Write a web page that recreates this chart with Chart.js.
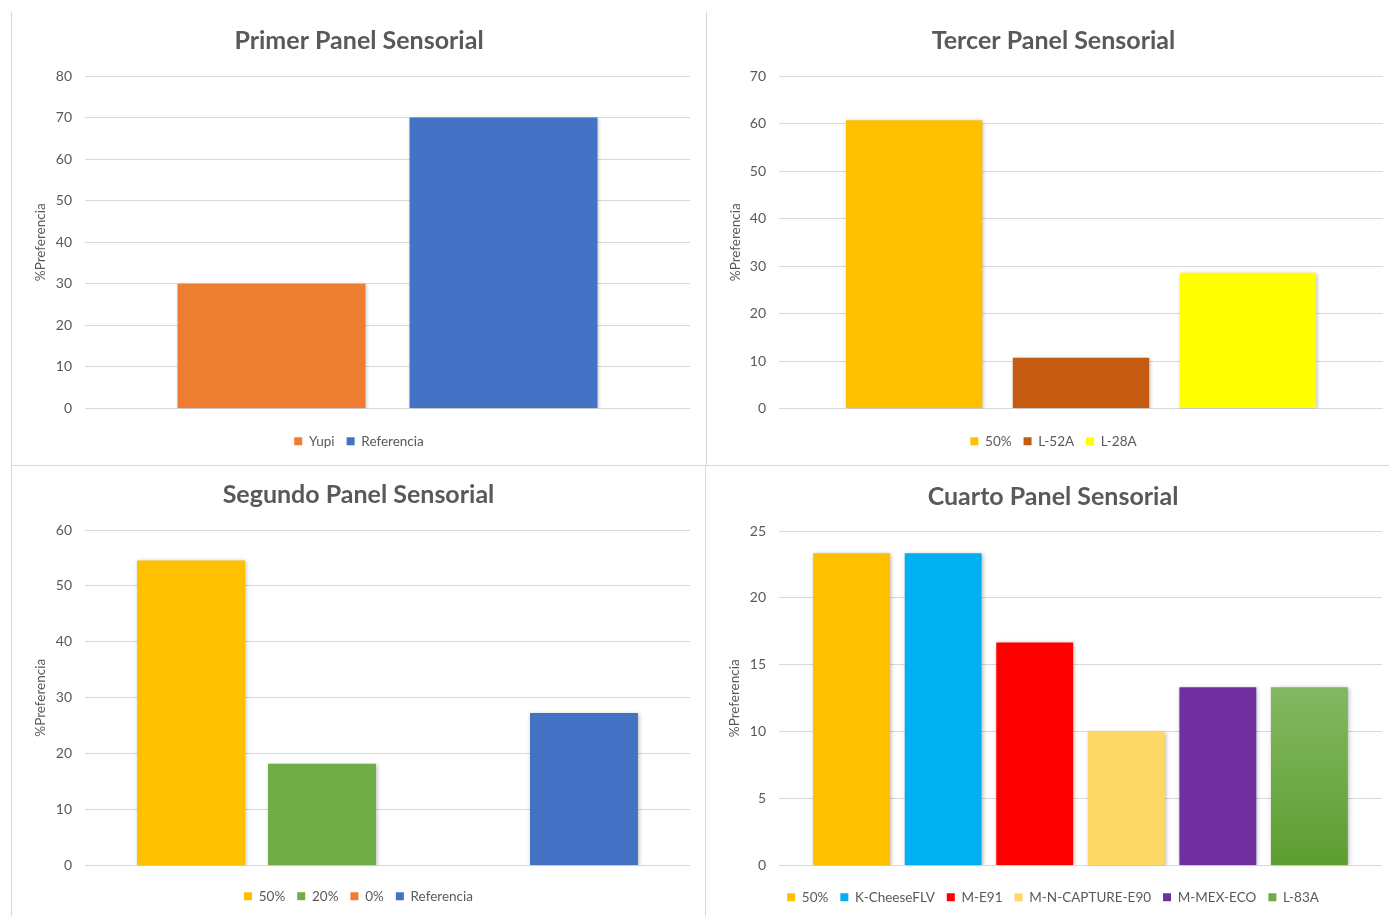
<!DOCTYPE html>
<html lang="es">
<head>
<meta charset="utf-8">
<title>Paneles Sensoriales</title>
<script src="https://cdn.jsdelivr.net/npm/chart.js@4.4.1/dist/chart.umd.min.js"></script>
<style>
  html, body { margin: 0; padding: 0; background: #ffffff; }
  body { width: 1389px; height: 916px; position: relative; overflow: hidden; }
  .panel { position: absolute; }
  .rule { position: absolute; background: #d9d9d9; }
</style>
</head>
<body>
<div class="rule" style="left:11px; top:12px; width:1px; height:904px;"></div>
<div class="rule" style="left:706px; top:12px; width:1px; height:453px;"></div>
<div class="rule" style="left:705px; top:466px; width:1px; height:450px;"></div>
<div class="rule" style="left:11px; top:465px; width:1378px; height:1px;"></div>

<div class="panel" style="left:12px; top:12px; width:694px; height:453px;"><canvas id="panel1"></canvas></div>
<div class="panel" style="left:707px; top:12px; width:693px; height:453px;"><canvas id="panel3"></canvas></div>
<div class="panel" style="left:12px; top:466px; width:693px; height:450px;"><canvas id="panel2"></canvas></div>
<div class="panel" style="left:706px; top:466px; width:694px; height:450px;"><canvas id="panel4"></canvas></div>

<script>
// ---- Primer Panel Sensorial ----
const panel1Title = 'Primer Panel Sensorial';
const panel1Series = ['Yupi', 'Referencia'];
const panel1Values = [30, 70];
const panel1Ticks = [0, 10, 20, 30, 40, 50, 60, 70, 80];

// ---- Segundo Panel Sensorial ----
const panel2Title = 'Segundo Panel Sensorial';
const panel2Series = ['50%', '20%', '0%', 'Referencia'];
const panel2Values = [54.55, 18.18, 0, 27.27];
const panel2Ticks = [0, 10, 20, 30, 40, 50, 60];

// ---- Tercer Panel Sensorial ----
const panel3Title = 'Tercer Panel Sensorial';
const panel3Series = ['50%', 'L-52A', 'L-28A'];
const panel3Values = [60.71, 10.71, 28.57];
const panel3Ticks = [0, 10, 20, 30, 40, 50, 60, 70];

// ---- Cuarto Panel Sensorial ----
const panel4Title = 'Cuarto Panel Sensorial';
const panel4Series = ['50%', 'K-CheeseFLV', 'M-E91', 'M-N-CAPTURE-E90', 'M-MEX-ECO', 'L-83A'];
const panel4Values = [23.33, 23.33, 16.67, 10, 13.33, 13.33];
const panel4Ticks = [0, 5, 10, 15, 20, 25];

const yAxisTitle = '%Preferencia';

// Series fill colours
const panel1Colors = ['#ED7D31', '#4472C4'];
const panel2Colors = ['#FFC000', '#70AD47', '#ED7D31', '#4472C4'];
const panel3Colors = ['#FFC000', '#C55A11', '#FFFF00'];
const panel4Colors = ['#FFC000', '#00B0F0', '#FF0000', '#FFD966', '#7030A0', 'gradient'];

const FONT = "Lato, 'Open Sans', sans-serif";
const GREY = '#595959';

// Soft drop shadow under the bars
const barShadow = {
  id: 'barShadow',
  beforeDatasetsDraw(chart) {
    const c = chart.ctx;
    c.save();
    c.shadowColor = 'rgba(0,0,0,0.28)';
    c.shadowBlur = 4;
    c.shadowOffsetX = 1;
    c.shadowOffsetY = 1;
  },
  afterDatasetsDraw(chart) { chart.ctx.restore(); }
};

// Vertical green gradient fill for the last series of the fourth panel
function greenGradient(ctx) {
  const chart = ctx.chart;
  const y = chart.scales.y;
  if (!chart.chartArea || !y) return '#70AD47';
  const top = y.getPixelForValue(ctx.raw);
  const bottom = y.getPixelForValue(0);
  const g = chart.ctx.createLinearGradient(0, top, 0, bottom);
  g.addColorStop(0, '#82B861');
  g.addColorStop(1, '#5E9E30');
  return g;
}

function makePanel(id, title, series, values, colors, ticks, geo) {
  const datasets = series.map((name, i) => ({
    label: name,
    data: [values[i]],
    backgroundColor: colors[i] === 'gradient' ? greenGradient : colors[i],
    borderWidth: 0,
    categoryPercentage: geo.cat,
    barPercentage: geo.bar
  }));
  const legendColors = colors.map(c => c === 'gradient' ? '#70AD47' : c);
  return new Chart(document.getElementById(id), {
    type: 'bar',
    data: { labels: [''], datasets },
    plugins: [barShadow],
    options: {
      responsive: true,
      maintainAspectRatio: false,
      animation: false,
      events: [],
      layout: { padding: { left: 0, right: 0, top: 0, bottom: geo.bottom } },
      plugins: {
        title: {
          display: true,
          text: title,
          color: GREY,
          font: { family: FONT, size: 25, weight: 'bold' },
          padding: { top: geo.titleTop, bottom: geo.titleBottom }
        },
        legend: {
          display: true,
          position: 'bottom',
          labels: {
            color: GREY,
            font: { family: FONT, size: 13.5 },
            boxWidth: 8,
            boxHeight: 8,
            padding: 12,
            generateLabels(chart) {
              return chart.data.datasets.map((ds, i) => ({
                text: ds.label,
                fillStyle: legendColors[i],
                strokeStyle: legendColors[i],
                lineWidth: 0,
                hidden: false,
                datasetIndex: i,
                fontColor: GREY
              }));
            }
          }
        },
        tooltip: { enabled: false }
      },
      scales: {
        x: {
          display: true,
          grid: { display: false },
          border: { display: false },
          ticks: { display: false },
          afterFit(scale) { scale.height = geo.gap; }
        },
        y: {
          min: ticks[0],
          max: ticks[ticks.length - 1],
          afterBuildTicks(scale) { scale.ticks = ticks.map(v => ({ value: v })); },
          grid: { color: '#d9d9d9', lineWidth: 1, drawTicks: false },
          border: { display: false },
          ticks: { color: GREY, font: { family: FONT, size: 14 }, padding: 13 },
          title: {
            display: true,
            text: yAxisTitle,
            color: GREY,
            font: { family: FONT, size: 13.5 },
            padding: { top: geo.axisTitle, bottom: 0 }
          },
          afterFit(scale) { scale.width = geo.left; }
        },
        // empty right-hand margin so the title stays centred on the whole panel
        yRight: {
          type: 'linear',
          position: 'right',
          display: true,
          grid: { display: false },
          border: { display: false },
          ticks: { display: false },
          afterFit(scale) { scale.width = geo.right; }
        }
      }
    }
  });
}

makePanel('panel1', panel1Title, panel1Series, panel1Values, panel1Colors, panel1Ticks,
  { left: 73, right: 16, bottom: 7, gap: 14, titleTop: 14, titleBottom: 20, axisTitle: 21, cat: 0.767, bar: 0.81 });
makePanel('panel3', panel3Title, panel3Series, panel3Values, panel3Colors, panel3Ticks,
  { left: 72, right: 17, bottom: 7, gap: 14, titleTop: 14, titleBottom: 20, axisTitle: 21, cat: 0.829, bar: 0.817 });
makePanel('panel2', panel2Title, panel2Series, panel2Values, panel2Colors, panel2Ticks,
  { left: 73, right: 15, bottom: 3, gap: 12, titleTop: 14, titleBottom: 20, axisTitle: 21, cat: 0.866, bar: 0.824 });
makePanel('panel4', panel4Title, panel4Series, panel4Values, panel4Colors, panel4Ticks,
  { left: 73, right: 18, bottom: 2, gap: 13, titleTop: 16, titleBottom: 19, axisTitle: 21, cat: 0.911, bar: 0.84 });
</script>
</body>
</html>
